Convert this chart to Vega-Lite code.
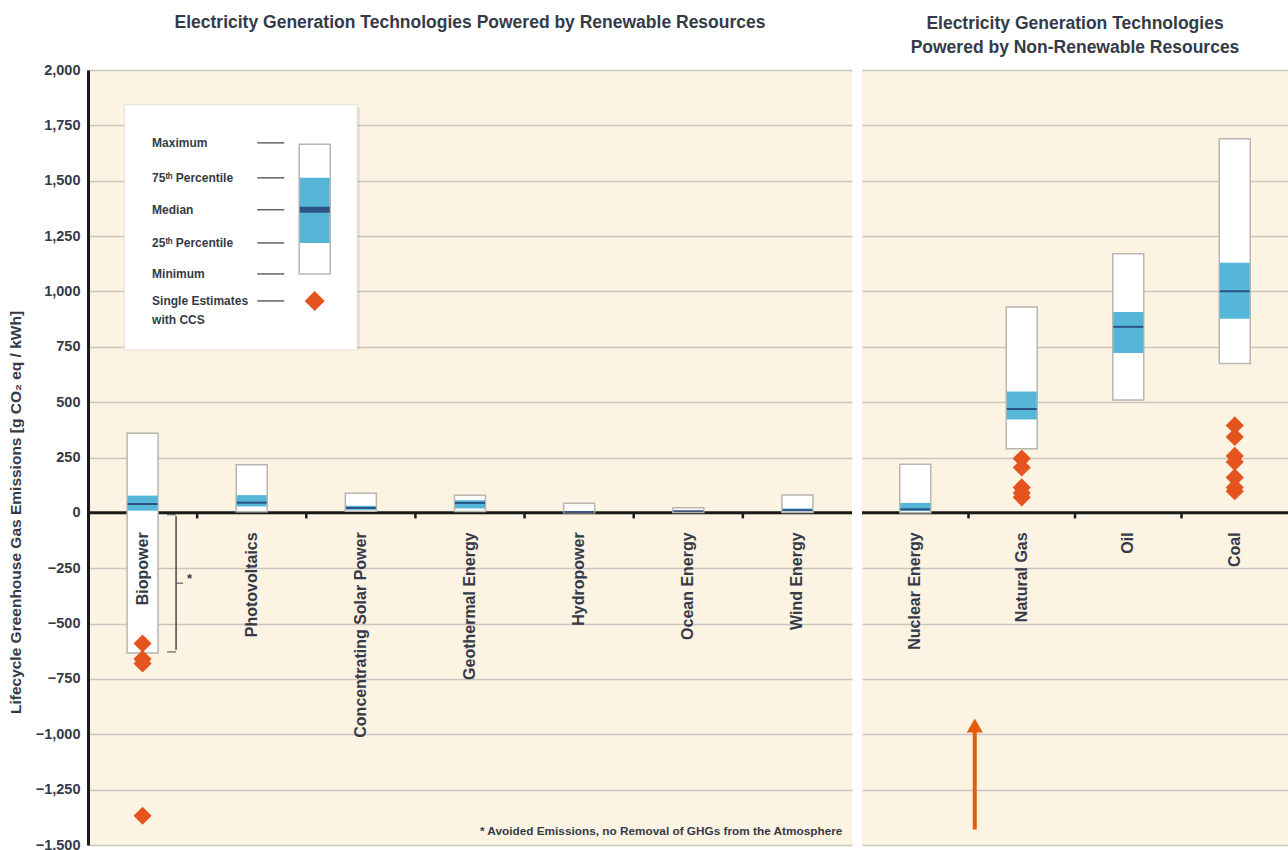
{
  "$schema": "https://vega.github.io/schema/vega-lite/v6.json",
  "background": "white",
  "padding": {"left": 8, "top": 13, "right": 0, "bottom": 0},
  "config": {
    "font": "Liberation Sans",
    "view": {"fill": "#fdf3e3", "stroke": null},
    "concat": {"spacing": 6},
    "title": {"font": "Liberation Sans", "fontSize": 17.5, "fontWeight": "bold", "color": "#353a48", "offset": 14, "lineHeight": 24, "anchor": "middle"},
    "axis": {"labelFont": "Liberation Sans", "titleFont": "Liberation Sans"}
  },
  "datasets": {
    "boxes": [
      {"cat": "Biopower", "group": "renewable", "min": -633, "q1": 10, "median": 40, "q3": 78, "max": 360},
      {"cat": "Photovoltaics", "group": "renewable", "min": 5, "q1": 29, "median": 46, "q3": 80, "max": 217},
      {"cat": "Concentrating Solar Power", "group": "renewable", "min": 7, "q1": 14, "median": 22, "q3": 32, "max": 89},
      {"cat": "Geothermal Energy", "group": "renewable", "min": 6, "q1": 20, "median": 45, "q3": 57, "max": 79},
      {"cat": "Hydropower", "group": "renewable", "min": 0, "q1": 3, "median": 4, "q3": 7, "max": 43},
      {"cat": "Ocean Energy", "group": "renewable", "min": 2, "q1": 6, "median": 8, "q3": 9, "max": 23},
      {"cat": "Wind Energy", "group": "renewable", "min": 2, "q1": 8, "median": 12, "q3": 20, "max": 81},
      {"cat": "Nuclear Energy", "group": "nonrenewable", "min": 1, "q1": 8, "median": 16, "q3": 45, "max": 220},
      {"cat": "Natural Gas", "group": "nonrenewable", "min": 290, "q1": 422, "median": 469, "q3": 548, "max": 930},
      {"cat": "Oil", "group": "nonrenewable", "min": 510, "q1": 722, "median": 840, "q3": 907, "max": 1170},
      {"cat": "Coal", "group": "nonrenewable", "min": 675, "q1": 877, "median": 1001, "q3": 1130, "max": 1689}
    ],
    "ccs": [
      {"cat": "Biopower", "group": "renewable", "value": -590},
      {"cat": "Biopower", "group": "renewable", "value": -660},
      {"cat": "Biopower", "group": "renewable", "value": -680},
      {"cat": "Biopower", "group": "renewable", "value": -1368},
      {"cat": "Natural Gas", "group": "nonrenewable", "value": 245},
      {"cat": "Natural Gas", "group": "nonrenewable", "value": 205},
      {"cat": "Natural Gas", "group": "nonrenewable", "value": 115},
      {"cat": "Natural Gas", "group": "nonrenewable", "value": 90},
      {"cat": "Natural Gas", "group": "nonrenewable", "value": 70},
      {"cat": "Coal", "group": "nonrenewable", "value": 395},
      {"cat": "Coal", "group": "nonrenewable", "value": 343},
      {"cat": "Coal", "group": "nonrenewable", "value": 257},
      {"cat": "Coal", "group": "nonrenewable", "value": 230},
      {"cat": "Coal", "group": "nonrenewable", "value": 160},
      {"cat": "Coal", "group": "nonrenewable", "value": 115},
      {"cat": "Coal", "group": "nonrenewable", "value": 98}
    ],
    "legend": [
      {"label": "Maximum", "level": 1671},
      {"label": "75ᵗʰ Percentile", "level": 1513},
      {"label": "Median", "level": 1369},
      {"label": "25ᵗʰ Percentile", "level": 1219},
      {"label": "Minimum", "level": 1079},
      {"label": "Single Estimates", "level": 957}
    ],
    "one": [{}]
  },
  "hconcat": [
    {
      "width": 764,
      "height": 775,
      "title": {"text": "Electricity Generation Technologies Powered by Renewable Resources", "offset": 31},
      "data": {"name": "boxes"},
      "transform": [{"filter": "datum.group === 'renewable'"}],
      "layer": [
        {
          "data": {"name": "one"},
          "mark": {"type": "rule", "color": "#1a1a1a", "strokeWidth": 3},
          "encoding": {
            "y": {
              "datum": 0, "type": "quantitative",
              "scale": {"domain": [-1500, 2000], "nice": false, "zero": false},
              "axis": {
                "values": [-1500, -1250, -1000, -750, -500, -250, 0, 250, 500, 750, 1000, 1250, 1500, 1750, 2000],
                "format": ",.0f",
                "labelFontSize": 14.5, "labelFontWeight": "bold", "labelColor": "#353a48", "labelPadding": 8,
                "ticks": false,
                "grid": true, "gridColor": "#c9c6c0", "gridWidth": 1.5,
                "domain": true, "domainColor": "#1a1a1a", "domainWidth": 3,
                "title": "Lifecycle Greenhouse Gas Emissions [g CO₂ eq / kWh]",
                "titleFontSize": 15.5, "titleFontWeight": "bold", "titleColor": "#353a48", "titlePadding": 12, "titleY": 442
              }
            }
          }
        },
        {
          "transform": [{"filter": "datum.cat !== 'Wind Energy'"}],
          "mark": {"type": "rule", "color": "#1a1a1a", "strokeWidth": 2.5},
          "encoding": {
            "x": {"field": "cat", "type": "nominal", "bandPosition": 1,
                  "scale": {"domain": ["Biopower", "Photovoltaics", "Concentrating Solar Power", "Geothermal Energy", "Hydropower", "Ocean Energy", "Wind Energy"], "paddingInner": 0, "paddingOuter": 0},
                  "axis": null},
            "y": {"datum": 0},
            "y2": {"datum": -25}
          }
        },
        {
          "mark": {"type": "bar", "width": 31, "fill": "white", "stroke": "#b9b6b0", "strokeWidth": 1.5},
          "encoding": {
            "x": {"field": "cat", "type": "nominal"},
            "y": {"field": "min", "type": "quantitative"},
            "y2": {"field": "max"}
          }
        },
        {
          "mark": {"type": "bar", "width": 30, "fill": "#55b6d8"},
          "encoding": {
            "x": {"field": "cat", "type": "nominal"},
            "y": {"field": "q1", "type": "quantitative"},
            "y2": {"field": "q3"}
          }
        },
        {
          "mark": {"type": "tick", "size": 30, "thickness": 2, "color": "#1b2a5c"},
          "encoding": {
            "x": {"field": "cat", "type": "nominal"},
            "y": {"field": "median", "type": "quantitative"}
          }
        },
        {
          "data": {"name": "ccs"},
          "transform": [{"filter": "datum.group === 'renewable'"}],
          "mark": {"type": "point", "shape": "diamond", "filled": true, "size": 330, "color": "#e5531f", "opacity": 1},
          "encoding": {
            "x": {"field": "cat", "type": "nominal"},
            "y": {"field": "value", "type": "quantitative"}
          }
        },
        {
          "mark": {"type": "text", "angle": 270, "align": "right", "baseline": "middle", "fontSize": 16, "fontWeight": "bold", "color": "#353a48"},
          "encoding": {
            "x": {"field": "cat", "type": "nominal"},
            "y": {"datum": -88},
            "text": {"field": "cat"}
          }
        },
        {
          "data": {"name": "one"},
          "mark": {"type": "rule", "color": "#4a4a4a", "strokeWidth": 1.5, "xOffset": 33.5},
          "encoding": {"x": {"datum": "Biopower", "type": "nominal"}, "y": {"datum": -15}, "y2": {"datum": -618}}
        },
        {
          "data": {"name": "one"},
          "mark": {"type": "tick", "color": "#4a4a4a", "thickness": 1.5, "size": 9, "xOffset": 29},
          "encoding": {"x": {"datum": "Biopower", "type": "nominal"}, "y": {"datum": -8}}
        },
        {
          "data": {"name": "one"},
          "mark": {"type": "tick", "color": "#4a4a4a", "thickness": 1.5, "size": 9, "xOffset": 29},
          "encoding": {"x": {"datum": "Biopower", "type": "nominal"}, "y": {"datum": -628}}
        },
        {
          "data": {"name": "one"},
          "mark": {"type": "tick", "color": "#4a4a4a", "thickness": 1.5, "size": 7, "xOffset": 37},
          "encoding": {"x": {"datum": "Biopower", "type": "nominal"}, "y": {"datum": -318}}
        },
        {
          "data": {"name": "one"},
          "mark": {"type": "text", "text": "*", "fontSize": 13, "fontWeight": "bold", "color": "#353a48", "xOffset": 47, "align": "center", "baseline": "middle"},
          "encoding": {"x": {"datum": "Biopower", "type": "nominal"}, "y": {"datum": -300}}
        },
        {
          "data": {"name": "one"},
          "mark": {"type": "bar", "width": 233, "fill": "#000000", "opacity": 0.07, "xOffset": -8, "yOffset": 3},
          "encoding": {"x": {"datum": "Photovoltaics", "type": "nominal"}, "y": {"datum": 1843}, "y2": {"datum": 736}}
        },
        {
          "data": {"name": "one"},
          "mark": {"type": "bar", "width": 233, "fill": "white", "stroke": "#e4ded4", "strokeWidth": 1, "xOffset": -11},
          "encoding": {"x": {"datum": "Photovoltaics", "type": "nominal"}, "y": {"datum": 1843}, "y2": {"datum": 736}}
        },
        {
          "data": {"name": "legend"},
          "mark": {"type": "text", "align": "left", "baseline": "middle", "fontSize": 12, "fontWeight": "bold", "color": "#353a48", "xOffset": 9.5},
          "encoding": {
            "x": {"datum": "Biopower", "type": "nominal"},
            "y": {"field": "level", "type": "quantitative"},
            "text": {"field": "label"}
          }
        },
        {
          "data": {"name": "one"},
          "mark": {"type": "text", "text": "with CCS", "align": "left", "baseline": "middle", "fontSize": 12, "fontWeight": "bold", "color": "#353a48", "xOffset": 9.5},
          "encoding": {"x": {"datum": "Biopower", "type": "nominal"}, "y": {"datum": 872}}
        },
        {
          "data": {"name": "legend"},
          "mark": {"type": "tick", "size": 27, "thickness": 1.5, "color": "#222222", "xOffset": 19},
          "encoding": {
            "x": {"datum": "Photovoltaics", "type": "nominal"},
            "y": {"field": "level", "type": "quantitative"}
          }
        },
        {
          "data": {"name": "one"},
          "mark": {"type": "bar", "width": 31, "fill": "white", "stroke": "#b9b6b0", "strokeWidth": 1.5, "xOffset": 63},
          "encoding": {"x": {"datum": "Photovoltaics", "type": "nominal"}, "y": {"datum": 1079}, "y2": {"datum": 1665}}
        },
        {
          "data": {"name": "one"},
          "mark": {"type": "bar", "width": 30, "fill": "#55b6d8", "xOffset": 63},
          "encoding": {"x": {"datum": "Photovoltaics", "type": "nominal"}, "y": {"datum": 1219}, "y2": {"datum": 1513}}
        },
        {
          "data": {"name": "one"},
          "mark": {"type": "tick", "size": 30, "thickness": 6, "color": "#1b2a5c", "xOffset": 63},
          "encoding": {"x": {"datum": "Photovoltaics", "type": "nominal"}, "y": {"datum": 1369}}
        },
        {
          "data": {"name": "one"},
          "mark": {"type": "point", "shape": "diamond", "filled": true, "size": 400, "color": "#e5531f", "opacity": 1, "xOffset": 63},
          "encoding": {"x": {"datum": "Photovoltaics", "type": "nominal"}, "y": {"datum": 957}}
        },
        {
          "data": {"name": "one"},
          "mark": {"type": "text", "text": "* Avoided Emissions, no Removal of GHGs from the Atmosphere", "align": "right", "baseline": "middle", "fontSize": 11.8, "fontWeight": "bold", "color": "#353a48", "xOffset": 45},
          "encoding": {"x": {"datum": "Wind Energy", "type": "nominal"}, "y": {"datum": -1436}}
        }
      ]
    },
    {
      "width": 426,
      "height": 775,
      "title": {"text": ["Electricity Generation Technologies", "Powered by Non-Renewable Resources"]},
      "data": {"name": "boxes"},
      "transform": [{"filter": "datum.group === 'nonrenewable'"}],
      "layer": [
        {
          "data": {"name": "one"},
          "mark": {"type": "rule", "color": "#1a1a1a", "strokeWidth": 3},
          "encoding": {
            "y": {
              "datum": 0, "type": "quantitative",
              "scale": {"domain": [-1500, 2000], "nice": false, "zero": false},
              "axis": {
                "values": [-1500, -1250, -1000, -750, -500, -250, 0, 250, 500, 750, 1000, 1250, 1500, 1750, 2000],
                "labels": false, "ticks": false, "domain": false, "title": null,
                "grid": true, "gridColor": "#c9c6c0", "gridWidth": 1.5
              }
            }
          }
        },
        {
          "transform": [{"filter": "datum.cat !== 'Coal'"}],
          "mark": {"type": "rule", "color": "#1a1a1a", "strokeWidth": 2.5},
          "encoding": {
            "x": {"field": "cat", "type": "nominal", "bandPosition": 1,
                  "scale": {"domain": ["Nuclear Energy", "Natural Gas", "Oil", "Coal"], "paddingInner": 0, "paddingOuter": 0},
                  "axis": null},
            "y": {"datum": 0},
            "y2": {"datum": -25}
          }
        },
        {
          "mark": {"type": "bar", "width": 31, "fill": "white", "stroke": "#b9b6b0", "strokeWidth": 1.5},
          "encoding": {
            "x": {"field": "cat", "type": "nominal"},
            "y": {"field": "min", "type": "quantitative"},
            "y2": {"field": "max"}
          }
        },
        {
          "mark": {"type": "bar", "width": 30, "fill": "#55b6d8"},
          "encoding": {
            "x": {"field": "cat", "type": "nominal"},
            "y": {"field": "q1", "type": "quantitative"},
            "y2": {"field": "q3"}
          }
        },
        {
          "mark": {"type": "tick", "size": 30, "thickness": 2, "color": "#1b2a5c"},
          "encoding": {
            "x": {"field": "cat", "type": "nominal"},
            "y": {"field": "median", "type": "quantitative"}
          }
        },
        {
          "data": {"name": "ccs"},
          "transform": [{"filter": "datum.group === 'nonrenewable'"}],
          "mark": {"type": "point", "shape": "diamond", "filled": true, "size": 330, "color": "#e5531f", "opacity": 1},
          "encoding": {
            "x": {"field": "cat", "type": "nominal"},
            "y": {"field": "value", "type": "quantitative"}
          }
        },
        {
          "mark": {"type": "text", "angle": 270, "align": "right", "baseline": "middle", "fontSize": 16, "fontWeight": "bold", "color": "#353a48"},
          "encoding": {
            "x": {"field": "cat", "type": "nominal"},
            "y": {"datum": -88},
            "text": {"field": "cat"}
          }
        },
        {
          "data": {"name": "one"},
          "mark": {"type": "rule", "color": "#e35d0c", "strokeWidth": 4, "xOffset": -47},
          "encoding": {"x": {"datum": "Natural Gas", "type": "nominal"}, "y": {"datum": -1430}, "y2": {"datum": -975}}
        },
        {
          "data": {"name": "one"},
          "mark": {"type": "point", "shape": "triangle-up", "filled": true, "size": 260, "color": "#e35d0c", "opacity": 1, "xOffset": -47},
          "encoding": {"x": {"datum": "Natural Gas", "type": "nominal"}, "y": {"datum": -960}}
        }
      ]
    }
  ]
}
